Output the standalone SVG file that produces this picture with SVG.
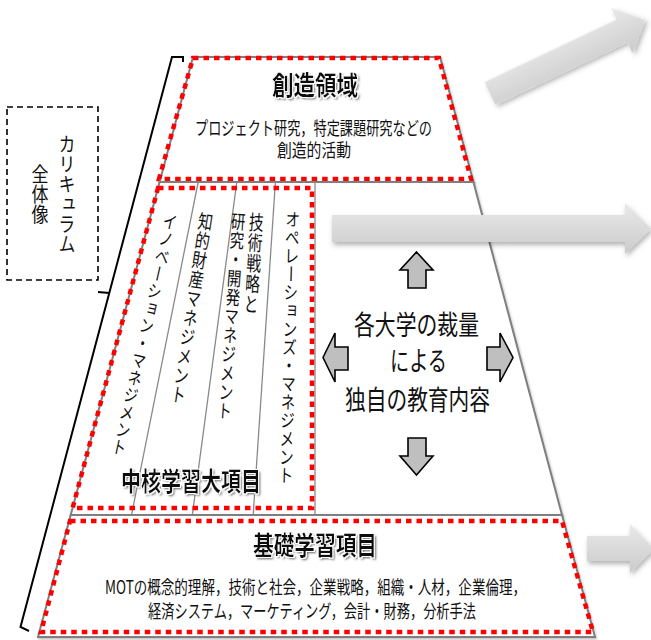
<svg xmlns="http://www.w3.org/2000/svg" width="651" height="640" viewBox="0 0 651 640">
<style>
  .jp { font-family: "Noto Sans CJK JP", "Noto Sans", sans-serif; fill: #111; }
  .title { font-size: 26px; font-weight: bold; fill: #111; filter: url(#tshadow); }
  .sub { font-size: 18.5px; }
  .center { font-size: 27px; }
  .vert { writing-mode: vertical-rl; font-size: 18px; }
  .outline { fill: #fff; stroke: #7f7f7f; stroke-width: 2; stroke-linejoin: miter; }
  .divider { fill: none; stroke: #8a8a8a; stroke-width: 1.3; }
  .red { fill: none; stroke: #ff0000; stroke-width: 4.5; stroke-dasharray: 5.5 5; }
  .bigarrow { fill: url(#agrad); filter: url(#ashadow); }
  .smallarrow { fill: #bfbfbf; stroke: #000; stroke-width: 1.6; stroke-linejoin: miter; }
</style>
<defs>
  <linearGradient id="agrad" x1="0" y1="0" x2="0" y2="1">
    <stop offset="0" stop-color="#e9e9e9"/>
    <stop offset="1" stop-color="#cbcbcb"/>
  </linearGradient>
  <filter id="ashadow" x="-20%" y="-40%" width="140%" height="180%">
    <feDropShadow dx="1.5" dy="3" stdDeviation="2.5" flood-color="#000" flood-opacity="0.3"/>
  </filter>
  <filter id="lshadow" x="-10%" y="-10%" width="120%" height="120%">
    <feDropShadow dx="1" dy="1.5" stdDeviation="1" flood-color="#000" flood-opacity="0.25"/>
  </filter>
  <filter id="tshadow" x="-10%" y="-20%" width="130%" height="150%">
    <feMorphology in="SourceAlpha" operator="dilate" radius="0.8" result="halo"/>
    <feFlood flood-color="#fff"/>
    <feComposite in2="halo" operator="in" result="white"/>
    <feGaussianBlur in="SourceAlpha" stdDeviation="1" result="blur"/>
    <feOffset in="blur" dx="2" dy="2" result="off"/>
    <feFlood flood-color="#333" flood-opacity="0.75"/>
    <feComposite in2="off" operator="in" result="shadow"/>
    <feMerge>
      <feMergeNode in="shadow"/>
      <feMergeNode in="white"/>
      <feMergeNode in="SourceGraphic"/>
    </feMerge>
  </filter>
</defs>
<rect width="651" height="640" fill="#fff"/>

<!-- Label box -->
<g id="label-box">
  <rect x="7" y="107" width="91" height="173" fill="none" stroke="#000" stroke-width="1.6" stroke-dasharray="6 4"/>
  <text class="jp vert" style="font-size:20px" text-anchor="middle" transform="translate(67,194) scale(0.85,1)" x="0" y="0">カリキュラム</text>
  <text class="jp vert" style="font-size:20px" text-anchor="middle" transform="translate(40,194) scale(0.85,1)" x="0" y="0">全体像</text>
</g>

<!-- Bracket -->
<g id="bracket" fill="none" stroke="#000" stroke-width="2" stroke-linejoin="miter">
  <path d="M183,62 L183,57 L172,57 L20.5,627 L29,631"/>
  <path d="M98,292 L109.5,293"/>
</g>

<!-- Top section -->
<g id="node-creative">
  <polygon class="outline" filter="url(#lshadow)" points="193,57 440,57 473.4,182 159.6,182"/>
  <polygon class="red" points="193,58 439,58 471,179 159,179"/>
  <text class="jp title" x="272" y="95" textLength="86" lengthAdjust="spacingAndGlyphs">創造領域</text>
  <text class="jp sub" x="195" y="135" textLength="237" lengthAdjust="spacingAndGlyphs">プロジェクト研究，特定課題研究などの</text>
  <text class="jp sub" x="277" y="157" textLength="74" lengthAdjust="spacingAndGlyphs">創造的活動</text>
</g>

<!-- Middle section -->
<g id="node-core">
  <polygon class="outline" filter="url(#lshadow)" points="159.6,182 473.4,182 562,515 70.7,515"/>
  <line class="divider" x1="315" y1="182" x2="315" y2="515" stroke="#7f7f7f" stroke-width="2"/>
  <line class="divider" x1="198.2" y1="182" x2="131.5" y2="515"/>
  <line class="divider" x1="236.8" y1="182" x2="192.3" y2="515"/>
  <line class="divider" x1="275.4" y1="182" x2="253.2" y2="515"/>
  <polygon class="red" points="158,188 312,188 312,508 72.6,508"/>
  <text class="jp vert" style="font-size:17.8px" transform="translate(172,213) rotate(12.7) scale(0.8,1)" x="0" y="0">イノベーション・マネジメント</text>
  <text class="jp vert" style="font-size:19.5px" transform="translate(207,212) rotate(8.9) scale(0.76,1)" x="0" y="0">知的財産マネジメント</text>
  <text class="jp vert" style="font-size:20.5px" transform="translate(257,212) rotate(3.5) scale(0.72,1)" x="0" y="0">技術戦略と</text>
  <text class="jp vert" style="font-size:19px" transform="translate(239,212) rotate(4.1) scale(0.76,1)" x="0" y="0">研究・開発マネジメント</text>
  <text class="jp vert" style="font-size:18.3px" transform="translate(293,210) rotate(1.5) scale(0.8,1)" x="0" y="0">オペレーションズ・マネジメント</text>
  <text class="jp title" x="121" y="491" textLength="140" lengthAdjust="spacingAndGlyphs">中核学習大項目</text>
</g>

<!-- Center content -->
<g id="node-own">
  <text class="jp center" x="354" y="335" textLength="125" lengthAdjust="spacingAndGlyphs">各大学の裁量</text>
  <text class="jp center" x="390" y="371" textLength="57" lengthAdjust="spacingAndGlyphs">による</text>
  <text class="jp center" x="345" y="410" textLength="145" lengthAdjust="spacingAndGlyphs">独自の教育内容</text>
</g>

<!-- Bottom section -->
<g id="node-basic">
  <polygon class="outline" filter="url(#lshadow)" points="70.7,515 562,515 595,637 38,637"/>
  <polygon class="red" points="70,521 562,521 593,632 41,632"/>
  <text class="jp title" x="253" y="555" textLength="124" lengthAdjust="spacingAndGlyphs">基礎学習項目</text>
  <text class="jp sub" x="105" y="594" textLength="421" lengthAdjust="spacingAndGlyphs">MOTの概念的理解，技術と社会，企業戦略，組織・人材，企業倫理，</text>
  <text class="jp sub" x="148" y="618" textLength="328" lengthAdjust="spacingAndGlyphs">経済システム，マーケティング，会計・財務，分析手法</text>
</g>

<!-- Connectors -->
<g id="connectors">
  <path class="bigarrow" transform="translate(490,93.5) rotate(-25.4)" d="M0,-12.5 L146,-12.5 L146,-25 L171.5,0 L146,25 L146,12.5 L0,12.5 Z"/>
  <path class="bigarrow" d="M332,215 L625,215 L625,203 L651,228.5 L625,254 L625,242 L332,242 Z"/>
  <path class="bigarrow" d="M587,536 L630,536 L630,524 L654,548.5 L630,573 L630,561 L587,561 Z"/>
  <path class="smallarrow" d="M416.5,252 L433,270 L426,270 L426,288 L408,288 L408,270 L400,270 Z"/>
  <path class="smallarrow" d="M408,438 L426,438 L426,456 L433,456 L416.5,475 L400,456 L408,456 Z"/>
  <path class="smallarrow" d="M323,357.5 L335,333 L335,347 L348,347 L348,370 L335,370 L335,382 Z"/>
  <path class="smallarrow" d="M513,357.5 L500,333 L500,347 L487,347 L487,370 L500,370 L500,382 Z"/>
</g>
</svg>
